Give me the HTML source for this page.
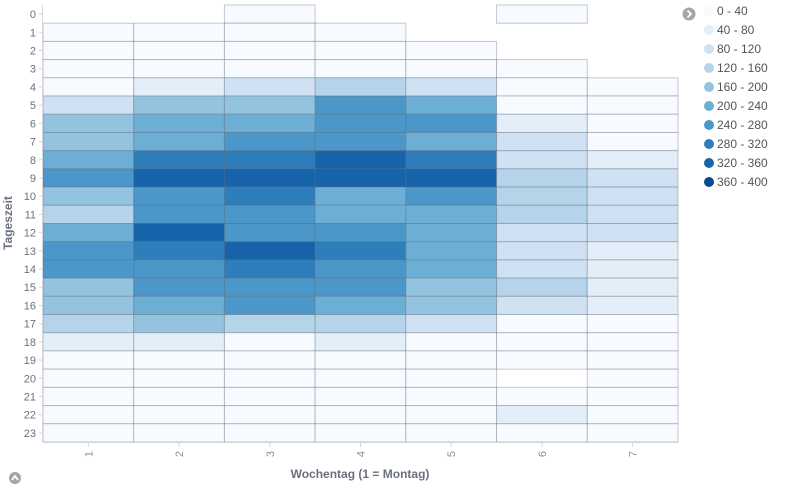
<!DOCTYPE html>
<html><head><meta charset="utf-8"><style>
body{margin:0;background:#fff;width:800px;height:489px;overflow:hidden;font-family:"Liberation Sans",sans-serif}
svg text{font-family:"Liberation Sans",sans-serif}
</style></head><body>
<svg id="chart" width="800" height="489" viewBox="0 0 800 489" xmlns="http://www.w3.org/2000/svg">
<g id="cells"></g>
<g id="axes"></g>
<g id="legend"></g>
<text x="12" y="223" transform="rotate(-90 12 223)" text-anchor="middle" font-size="12" font-weight="bold" fill="#6a717d">Tageszeit</text>
<text x="360" y="478" text-anchor="middle" font-size="12" font-weight="bold" fill="#6a717d">Wochentag (1 = Montag)</text>
<circle cx="15" cy="478" r="6" fill="#a6a6a6"/>
<path d="M12 480 L15 476 L18 480" stroke="#fff" stroke-width="1.8" fill="none"/>
<circle cx="689" cy="14" r="6.5" fill="#a6a6a6"/>
<path d="M687.5 10.5 L691 14 L687.5 17.5" stroke="#fff" stroke-width="1.8" fill="none"/>
</svg>
<script>
const days = ["1","2","3","4","5","6","7"];
const hours = ["0","1","2","3","4","5","6","7","8","9","10","11","12","13","14","15","16","17","18","19","20","21","22","23"];
const rangeLabels = ["0 - 40","40 - 80","80 - 120","120 - 160","160 - 200","200 - 240","240 - 280","280 - 320","320 - 360","360 - 400"];
const colors = ["#f7fbff","#e3eef9","#cfe1f2","#b5d4e9","#93c3df","#6daed5","#4b97c9","#2f7ebc","#1864aa","#0a4a90"];
// values per hour (rows), per weekday (cols); null = no data
const values = [
[null,null,10,null,null,10,null],
[10,10,10,10,null,null,null],
[10,5,10,10,10,null,null],
[10,10,10,10,10,10,null],
[10,60,100,140,100,10,10],
[100,180,180,260,220,10,10],
[180,220,220,260,260,60,10],
[180,220,260,260,220,100,10],
[220,300,300,340,300,100,60],
[260,340,340,340,340,140,100],
[180,260,300,220,260,140,100],
[140,260,260,220,220,140,100],
[220,340,260,260,220,100,100],
[260,300,340,300,220,100,60],
[260,260,300,260,220,100,60],
[180,260,260,260,180,140,60],
[180,220,260,220,180,100,60],
[140,180,140,140,100,10,10],
[60,60,10,60,10,10,10],
[10,10,10,10,10,10,10],
[10,10,10,10,10,null,10],
[10,10,10,10,10,10,10],
[10,10,10,10,10,60,10],
[10,10,10,10,10,10,10]
];
const NS="http://www.w3.org/2000/svg";
const X0=43,X1=678,Y0=5,Y1=442;
const cw=(X1-X0)/days.length, ch=(Y1-Y0)/hours.length;
function xScale(i){return X0+i*cw;}
function yScale(i){return Y0+i*ch;}
function colorOf(v){return colors[Math.max(0,Math.min(9,Math.floor(v/40)))];}
const cells=document.getElementById('cells');
hours.forEach((h,r)=>{days.forEach((d,c)=>{
  const v=values[r][c]; if(v===null) return;
  const el=document.createElementNS(NS,'rect');
  el.setAttribute('x',xScale(c));el.setAttribute('y',yScale(r));
  el.setAttribute('width',cw);el.setAttribute('height',ch);
  el.setAttribute('fill',colorOf(v));
  el.setAttribute('stroke','rgba(90,100,115,0.35)');el.setAttribute('stroke-width','1');
  
  
  cells.appendChild(el);
});});
const axes=document.getElementById('axes');
function line(x1,y1,x2,y2,name){const l=document.createElementNS(NS,'line');l.setAttribute('x1',x1);l.setAttribute('y1',y1);l.setAttribute('x2',x2);l.setAttribute('y2',y2);l.setAttribute('stroke','#d4d6da');l.setAttribute('stroke-width','1');


axes.appendChild(l);}
line(X0-0.5,Y0,X0-0.5,Y1,'y-axis-line');
line(X0,Y1+0.5,X1,Y1+0.5,'x-axis-line');
hours.forEach((h,r)=>{const y=yScale(r)+ch/2;line(X0-4,y,X0,y,'y-tick');
 const t=document.createElementNS(NS,'text');t.setAttribute('x',X0-7);t.setAttribute('y',y+4);t.setAttribute('text-anchor','end');t.setAttribute('font-size','11');t.setAttribute('fill','#6a717d');t.textContent=h;
 
 
 axes.appendChild(t);});
days.forEach((d,c)=>{const x=xScale(c)+cw/2;line(x,Y1,x,Y1+5,'x-tick');
 const t=document.createElementNS(NS,'text');t.setAttribute('x',x+4);t.setAttribute('y',Y1+9);t.setAttribute('text-anchor','end');t.setAttribute('font-size','11');t.setAttribute('fill','#8a9099');t.setAttribute('transform','rotate(-90 '+(x+4)+' '+(Y1+9)+')');t.textContent=d;
 
 
 axes.appendChild(t);});
const legend=document.getElementById('legend');
rangeLabels.forEach((lab,i)=>{const y=11+i*19;
 const g=document.createElementNS(NS,'g');
 
 
 const c=document.createElementNS(NS,'circle');c.setAttribute('cx',709);c.setAttribute('cy',y);c.setAttribute('r',5);c.setAttribute('fill',colors[i]);
 const t=document.createElementNS(NS,'text');t.setAttribute('x',717);t.setAttribute('y',y+4);t.setAttribute('font-size','12');t.setAttribute('fill','#555');t.textContent=lab;
 g.appendChild(c);g.appendChild(t);legend.appendChild(g);});
</script>
</body></html>
